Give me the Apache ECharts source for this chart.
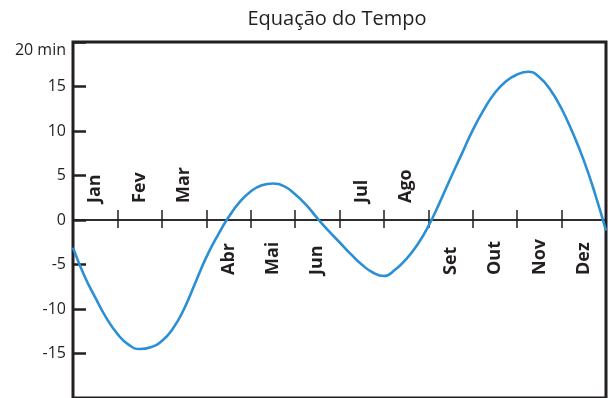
<!DOCTYPE html>
<html>
<head>
<meta charset="utf-8">
<script src="https://cdn.jsdelivr.net/npm/echarts@6/dist/echarts.min.js"></script>
<style>
  html, body { margin: 0; padding: 0; background: #fff; }
  #main { width: 610px; height: 398px; }
</style>
</head>
<body>
<div id="main"></div>
<script>
// meses do ano (rótulos no eixo zero)
const months = ['Jan', 'Fev', 'Mar', 'Abr', 'Mai', 'Jun', 'Jul', 'Ago', 'Set', 'Out', 'Nov', 'Dez'];
const monthsAbove = ['Jan', 'Fev', 'Mar', 'Jul', 'Ago'];
// posição no ano (em meses) e equação do tempo (min)
const monthPos = [0, 0.25, 0.5, 0.75, 1, 1.25, 1.5, 1.75, 2, 2.25, 2.5, 2.75, 3, 3.25, 3.5, 3.75,
  4, 4.25, 4.5, 4.75, 5, 5.25, 5.5, 5.75, 6, 6.25, 6.5, 6.75, 7, 7.25, 7.5, 7.75,
  8, 8.25, 8.5, 8.75, 9, 9.25, 9.5, 9.75, 10, 10.25, 10.5, 10.75, 11, 11.25, 11.5, 11.75, 12];
const eotMinutes = [-3.1, -6.2, -8.7, -11.0, -12.8, -14.0, -14.5, -14.3, -13.6, -12.2, -10.0, -7.1, -4.2, -1.8, 0.3, 2.0,
  3.2, 3.9, 4.1, 3.8, 2.9, 1.7, 0.2, -1.2, -2.5, -3.8, -5.0, -5.9, -6.3, -5.6, -4.4, -2.8,
  -0.7, 1.9, 4.7, 7.4, 10.1, 12.4, 14.3, 15.6, 16.35, 16.65, 16.05, 14.6, 12.5, 9.8, 6.7, 3.0, -1.2];
const yTicks = [-20, -15, -10, -5, 0, 5, 10, 15, 20];

const ink = '#231f20';
const myChart = echarts.init(document.getElementById('main'));

// eixo dos meses: grid 1 = metade de baixo (eixo no topo), grid 2 = metade de cima (eixo embaixo)
const monthAxis = (gridIndex, position, showList, tickLen, margin, rotate) => ({
  type: 'category',
  gridIndex: gridIndex,
  data: months,
  position: position,
  boundaryGap: true,
  axisLine: { onZero: false, lineStyle: { color: ink, width: 1.5 } },
  axisTick: { show: true, length: tickLen, interval: 0, lineStyle: { color: ink, width: 1.5 } },
  axisLabel: {
    interval: 0,
    rotate: rotate,
    margin: margin,
    align: 'left',
    padding: [5, 0, 0, 0],
    color: ink,
    fontFamily: 'Open Sans',
    fontWeight: 'bold',
    fontSize: 18,
    formatter: (m) => showList.indexOf(m) >= 0 ? m : ''
  },
  splitLine: { show: false }
});

const hiddenY = (gridIndex) => ({ type: 'value', gridIndex: gridIndex, show: false, min: 0, max: 1 });

const option = {
  backgroundColor: '#fff',
  animation: false,
  title: {
    text: 'Equação do Tempo',
    left: 332,
    top: 4,
    textAlign: 'center',
    textStyle: { color: ink, fontFamily: 'Open Sans', fontWeight: 'normal', fontSize: 20 }
  },
  grid: [
    { left: 73, right: 4, top: 42, bottom: 0, show: true, borderColor: ink, borderWidth: 3, containLabel: false, outerBoundsMode: 'none' },
    { left: 73, right: 4, top: 220, bottom: 0, show: false, containLabel: false, outerBoundsMode: 'none' },
    { left: 73, right: 4, top: 42, bottom: 178, show: false, containLabel: false, outerBoundsMode: 'none' }
  ],
  xAxis: [
    { type: 'value', gridIndex: 0, min: 0, max: 12, show: false },
    monthAxis(1, 'top', monthsAbove, 10, 17, -90),
    monthAxis(2, 'bottom', months.filter(m => monthsAbove.indexOf(m) < 0), 8, 55, 90)
  ],
  yAxis: [
    {
      type: 'value',
      gridIndex: 0,
      min: yTicks[0],
      max: yTicks[yTicks.length - 1],
      interval: 5,
      axisLine: { show: false },
      axisTick: { show: true, inside: true, length: 13, lineStyle: { color: ink, width: 2.5 } },
      splitLine: { show: false },
      axisLabel: {
        margin: 7,
        color: ink,
        fontFamily: 'Open Sans',
        fontSize: 16,
        formatter: (v) => v === 20 ? '{t|20 min}' : (v === -20 ? '' : String(v)),
        rich: {
          t: { fontFamily: 'Open Sans', fontSize: 16, color: ink, padding: [16, 0, 0, 0] }
        }
      }
    },
    hiddenY(1),
    hiddenY(2)
  ],
  series: [
    {
      type: 'line',
      xAxisIndex: 0,
      yAxisIndex: 0,
      data: monthPos.map((m, i) => [m, eotMinutes[i]]),
      smooth: 0.5,
      symbol: 'none',
      lineStyle: { color: '#2b8fd6', width: 2.6 }
    }
  ]
};

myChart.setOption(option);
</script>
</body>
</html>
